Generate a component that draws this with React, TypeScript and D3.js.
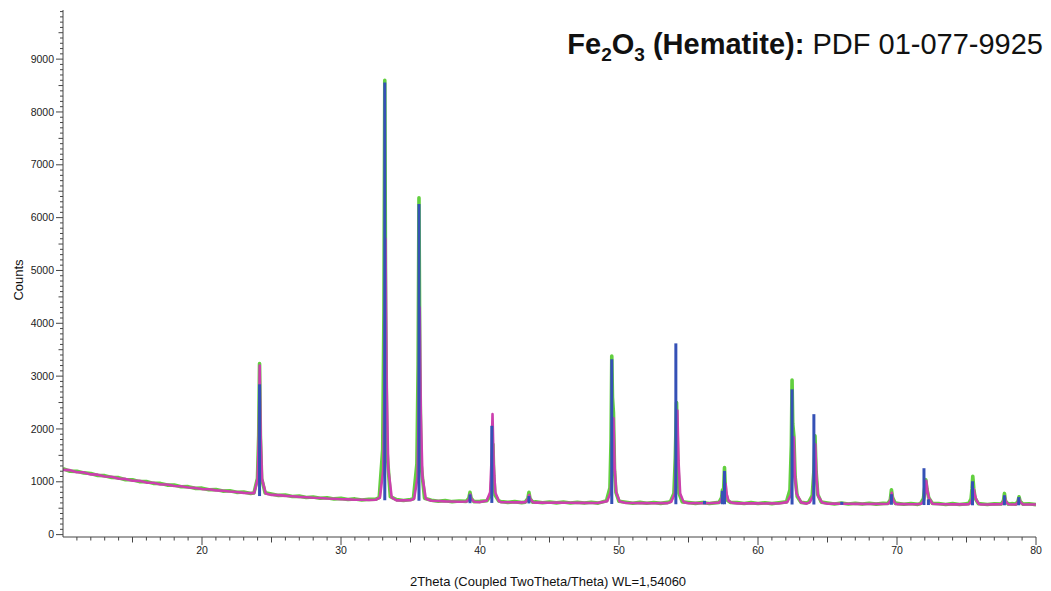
import React from "react";
import * as d3 from "d3";

// ---- data ----
const title = { bold: ["Fe", "2", "O", "3", " (Hematite):"], regular: " PDF 01-077-9925" };
const xLabel = "2Theta (Coupled TwoTheta/Theta) WL=1,54060";
const yLabel = "Counts";
const xMajorTicks = [20, 30, 40, 50, 60, 70, 80];
const yMajorTicks = [0, 1000, 2000, 3000, 4000, 5000, 6000, 7000, 8000, 9000];

// green scan: background points
const greenBase: [number, number][] = [
  [10, 1250], [10.5, 1200], [11, 1198], [11.5, 1168], [12, 1158], [12.5, 1120], [13, 1116], [13.5, 1082], [14, 1078],
  [14.5, 1040], [15, 1040], [15.5, 1003], [16, 1004], [16.5, 970], [17, 970], [17.5, 937], [18, 940], [18.5, 906],
  [19, 908], [19.5, 876], [20, 880], [20.5, 850], [21, 853], [21.5, 824], [22, 830], [22.5, 800], [23, 806],
  [23.5, 780], [25, 768], [25.5, 742], [26, 748], [26.5, 722], [27, 729], [27.5, 704], [28, 712], [28.5, 689],
  [29, 698], [29.5, 676], [30, 686], [30.5, 665], [31, 676], [31.5, 656], [32, 668], [32.5, 672], [34, 663],
  [34.5, 645], [35, 666], [36.5, 652], [37, 632], [37.5, 644], [38, 624], [38.5, 637], [40, 630], [41.5, 626],
  [42, 610], [42.5, 624], [43, 606], [44, 620], [44.5, 603], [45, 618], [45.5, 601], [46, 616], [46.5, 599],
  [47, 614], [47.5, 597], [48, 613], [48.5, 596], [50.5, 611], [51, 594], [51.5, 610], [52, 593], [52.5, 609],
  [53, 592], [53.5, 610], [55, 608], [55.5, 591], [56, 607], [56.5, 590], [58.5, 606], [59, 589], [59.5, 605],
  [60, 588], [60.5, 603], [61, 587], [61.5, 602], [63.5, 600], [65, 598], [65.5, 581], [66, 597], [66.5, 580],
  [67, 595], [67.5, 578], [68, 593], [68.5, 577], [69, 592], [70, 591], [70.5, 574], [71, 589], [71.5, 573],
  [73, 588], [73.5, 571], [74, 587], [74.5, 570], [75, 586], [76, 585], [76.5, 569], [77, 584], [78.25, 586],
  [79.5, 583], [80, 567],
];

// green scan: peak profiles
const greenPeaks: [number, number][] = [
  [23.74, 790], [23.99, 1066], [24.08, 1881], [24.14, 3240], [24.2, 1881], [24.29, 1066], [24.54, 790],
  [32.75, 700], [33.0, 1613], [33.09, 4233], [33.15, 8600], [33.21, 4233], [33.3, 1613], [33.55, 720],
  [35.21, 680], [35.46, 1337], [35.55, 3226], [35.61, 6375], [35.67, 3226], [35.76, 1337], [36.01, 690],
  [39.0, 630], [39.2, 690], [39.28, 800], [39.36, 690], [39.56, 625],
  [40.5, 640], [40.78, 750], [40.87, 1110], [40.93, 1710], [40.99, 1110], [41.08, 750], [41.35, 635],
  [43.25, 615], [43.44, 680], [43.52, 800], [43.6, 680], [43.8, 612],
  [49.1, 640], [49.35, 890], [49.43, 1800], [49.48, 3380], [49.53, 2600], [49.6, 2310], [49.68, 1200], [49.78, 800], [50.0, 630],
  [53.7, 625], [53.95, 780], [54.05, 1450], [54.14, 2500], [54.22, 1450], [54.32, 780], [54.55, 620],
  [57.2, 610], [57.38, 700], [57.45, 850], [57.52, 800], [57.59, 1270], [57.66, 820], [57.8, 650], [58.0, 610],
  [62.05, 620], [62.3, 850], [62.4, 1700], [62.45, 2925], [62.5, 2100], [62.58, 1870], [62.67, 1100], [62.82, 720], [63.1, 610],
  [63.65, 615], [63.9, 740], [64.02, 1200], [64.1, 1870], [64.18, 1200], [64.3, 760], [64.55, 615],
  [69.35, 590], [69.52, 660], [69.6, 850], [69.68, 700], [69.88, 590],
  [71.7, 590], [71.9, 680], [72.0, 900], [72.07, 1040], [72.15, 870], [72.28, 700], [72.55, 590],
  [75.15, 585], [75.33, 680], [75.4, 880], [75.45, 1105], [75.52, 880], [75.62, 690], [75.85, 585],
  [77.5, 580], [77.66, 640], [77.73, 780], [77.8, 640], [78.0, 578],
  [78.55, 578], [78.7, 630], [78.78, 715], [78.86, 630], [79.05, 578],
];

// magenta scan: background points
const magentaBase: [number, number][] = [
  [10, 1225], [10.5, 1220], [11, 1180], [11.5, 1178], [12, 1140], [12.5, 1135], [13, 1100], [13.5, 1095], [14, 1060],
  [14.5, 1055], [15, 1020], [15.5, 1018], [16, 985], [16.5, 982], [17, 950], [17.5, 948], [18, 920], [18.5, 916],
  [19, 892], [19.5, 884], [20, 862], [20.5, 858], [21, 838], [21.5, 830], [22, 815], [22.5, 806], [23, 790],
  [23.5, 785], [25, 752], [25.5, 748], [26, 733], [26.5, 726], [27, 714], [27.5, 708], [28, 697], [28.5, 692],
  [29, 683], [29.5, 680], [30, 670], [30.5, 668], [31, 660], [31.5, 660], [32, 654], [32.5, 660], [34, 648],
  [34.5, 648], [35, 652], [36.5, 640], [37, 636], [37.5, 630], [38, 628], [38.5, 622], [40, 616], [41.5, 614],
  [42, 612], [42.5, 610], [43, 610], [44, 606], [44.5, 607], [45, 604], [45.5, 606], [46, 602], [46.5, 604],
  [47, 600], [47.5, 602], [48, 598], [48.5, 601], [50.5, 598], [51, 599], [51.5, 596], [52, 598], [52.5, 595],
  [53, 597], [53.5, 596], [55, 595], [55.5, 596], [56, 593], [56.5, 595], [58.5, 592], [59, 594], [59.5, 591],
  [60, 592], [60.5, 589], [61, 591], [61.5, 588], [63.5, 587], [65, 585], [65.5, 586], [66, 583], [66.5, 585],
  [67, 582], [67.5, 583], [68, 580], [68.5, 582], [69, 579], [70, 578], [70.5, 579], [71, 576], [71.5, 577],
  [73, 575], [73.5, 576], [74, 573], [74.5, 575], [75, 572], [76, 573], [76.5, 571], [77, 572], [78.25, 570],
  [79.5, 570], [80, 569],
];

// magenta scan: peak profiles
const magentaPeaks: [number, number][] = [
  [23.75, 785], [24.0, 1050], [24.09, 1850], [24.15, 3200], [24.22, 1850], [24.32, 1050], [24.58, 780],
  [32.8, 700], [33.05, 1250], [33.13, 2900], [33.2, 5600], [33.28, 2900], [33.4, 1250], [33.65, 700],
  [35.26, 680], [35.51, 1090], [35.59, 2300], [35.66, 4300], [35.74, 2300], [35.86, 1090], [36.1, 680],
  [39.05, 628], [39.22, 670], [39.3, 760], [39.38, 670], [39.58, 622],
  [40.48, 640], [40.73, 800], [40.82, 1360], [40.9, 2280], [40.98, 1360], [41.1, 800], [41.35, 635],
  [43.27, 615], [43.46, 670], [43.54, 750], [43.62, 670], [43.82, 612],
  [49.15, 630], [49.4, 800], [49.52, 1300], [49.6, 2200], [49.68, 1300], [49.8, 800], [50.05, 625],
  [53.75, 620], [54.02, 780], [54.12, 1400], [54.2, 2350], [54.28, 1400], [54.4, 780], [54.65, 615],
  [57.2, 605], [57.38, 660], [57.45, 760], [57.52, 700], [57.6, 760], [57.67, 960], [57.75, 760], [57.88, 640], [58.1, 605],
  [62.1, 615], [62.38, 760], [62.49, 1150], [62.57, 1840], [62.65, 1150], [62.77, 780], [63.1, 610],
  [63.72, 610], [63.98, 740], [64.04, 1100], [64.12, 1710], [64.2, 1100], [64.32, 740], [64.6, 610],
  [69.37, 585], [69.54, 650], [69.62, 790], [69.7, 660], [69.9, 582],
  [71.75, 585], [71.94, 650], [72.04, 820], [72.1, 1020], [72.18, 850], [72.3, 690], [72.55, 585],
  [75.2, 580], [75.38, 650], [75.46, 740], [75.52, 860], [75.6, 750], [75.72, 650], [75.9, 580],
  [77.52, 575], [77.68, 630], [77.75, 720], [77.82, 630], [78.02, 574],
  [78.57, 573], [78.72, 620], [78.78, 680], [78.86, 620], [79.05, 572],
];

// PDF 01-077-9925 reference sticks
const stickPos = [24.14, 33.15, 35.61, 39.28, 40.85, 43.52, 49.48, 54.09, 56.15, 57.43, 57.59, 62.45, 64.02, 66.03, 69.6, 71.94, 72.26, 75.43, 77.73, 78.76];
const stickTop = [2845, 8560, 6260, 760, 2060, 730, 3320, 3620, 640, 830, 1205, 2750, 2280, 620, 765, 1257, 670, 1010, 745, 710];
const stickBase = [730, 650, 640, 595, 600, 590, 580, 575, 575, 575, 575, 570, 570, 565, 565, 560, 560, 555, 555, 555];

// ---- layout ----
const W = 1051;
const H = 591;
const X0 = 63, X1 = 1036;
const Y0 = 537, Y1 = 10;

export default function App() {
  const x = d3.scaleLinear().domain([10, 80]).range([X0, X1]);
  const y = d3.scaleLinear().domain([-45, 9930]).range([Y0, Y1]);

  const green = [...greenBase, ...greenPeaks].sort((a, b) => a[0] - b[0]);
  const magenta = [...magentaBase, ...magentaPeaks].sort((a, b) => a[0] - b[0]);
  const line = d3.line<[number, number]>().x((d) => x(d[0])).y((d) => y(d[1]));

  const xMinor = d3.range(11, 80, 1).filter((v) => v % 10 !== 0);
  const yMinor = d3.range(100, 9901, 100).filter((v) => v % 1000 !== 0);

  const font = "Liberation Sans, Arial, Helvetica, sans-serif";
  const axisColor = "#444";

  return (
    <svg width={W} height={H} style={{ position: "absolute", left: 0, top: 0, background: "#fff" }} fontFamily={font}>
      <defs>
        <clipPath id="plot">
          <rect x={X0} y={Y1} width={X1 - X0} height={Y0 - Y1} />
        </clipPath>
      </defs>

      {/* title */}
      <text x={1043} y={54} textAnchor="end" fontSize={29} fill="#111">
        <tspan fontWeight="bold">{title.bold[0]}</tspan>
        <tspan fontWeight="bold" fontSize={19} dy={7}>{title.bold[1]}</tspan>
        <tspan fontWeight="bold" dy={-7}>{title.bold[2]}</tspan>
        <tspan fontWeight="bold" fontSize={19} dy={7}>{title.bold[3]}</tspan>
        <tspan fontWeight="bold" dy={-7}>{title.bold[4]}</tspan>
        <tspan>{title.regular}</tspan>
      </text>

      {/* data */}
      <g clipPath="url(#plot)">
        <path d={line(green) ?? ""} fill="none" stroke="#62cf3f" strokeWidth={3.6} strokeLinejoin="round" />
        <path d={line(magenta) ?? ""} fill="none" stroke="#cc3fae" strokeWidth={2.6} strokeLinejoin="round" />
        {stickPos.map((p, i) => (
          <line key={i} x1={x(p)} x2={x(p)} y1={y(stickBase[i])} y2={y(stickTop[i])} stroke="#3551b6" strokeWidth={3} />
        ))}
      </g>

      {/* axes */}
      <line x1={X0} x2={X0} y1={Y1} y2={Y0} stroke={axisColor} strokeWidth={1} />
      <line x1={X0} x2={X1} y1={Y0} y2={Y0} stroke={axisColor} strokeWidth={1} />

      {yMinor.map((v) => (
        <line key={"ym" + v} x1={X0 - (v % 500 === 0 ? 4.5 : 3)} x2={X0} y1={y(v)} y2={y(v)} stroke={axisColor} />
      ))}
      {yMajorTicks.map((v) => (
        <g key={"y" + v}>
          <line x1={X0 - 7} x2={X0} y1={y(v)} y2={y(v)} stroke={axisColor} />
          <text x={X0 - 9} y={y(v)} dy="0.35em" textAnchor="end" fontSize={10.5} fill="#222">{v}</text>
        </g>
      ))}

      {xMinor.map((v) => (
        <line key={"xm" + v} x1={x(v)} x2={x(v)} y1={Y0} y2={Y0 + (v % 5 === 0 ? 5.5 : 3.5)} stroke={axisColor} />
      ))}
      {xMajorTicks.map((v) => (
        <g key={"x" + v}>
          <line x1={x(v)} x2={x(v)} y1={Y0} y2={Y0 + 8} stroke={axisColor} />
          <text x={x(v)} y={554} textAnchor="middle" fontSize={10.5} fill="#222">{v}</text>
        </g>
      ))}

      <text x={548} y={586} textAnchor="middle" fontSize={13} fill="#111">{xLabel}</text>
      <text transform="translate(23,280) rotate(-90)" textAnchor="middle" fontSize={13} fill="#111">{yLabel}</text>
    </svg>
  );
}
